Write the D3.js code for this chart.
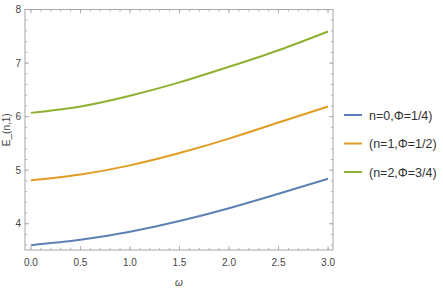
<!DOCTYPE html>
<html>
<head>
<meta charset="utf-8">
<script src="https://cdn.jsdelivr.net/npm/d3@7"></script>
<style>
  body { margin: 0; background: #fff; }
  text { font-family: "Liberation Sans", Arial, sans-serif; }
</style>
</head>
<body>
<div id="chart"></div>
<script>
// data
var omega = [0, 0.5, 1.0, 1.5, 2.0, 2.5, 3.0];
var seriesN0 = [3.60, 3.70, 3.85, 4.05, 4.29, 4.56, 4.84];
var seriesN1 = [4.81, 4.92, 5.09, 5.32, 5.59, 5.89, 6.19];
var seriesN2 = [6.07, 6.19, 6.39, 6.64, 6.93, 7.24, 7.59];
var seriesNames = ["n=0,\u03A6=1/4)", "(n=1,\u03A6=1/2)", "(n=2,\u03A6=3/4)"];
var seriesColors = ["#5E81B5", "#E19C24", "#8FB032"];
var xTicks = [0, 0.5, 1.0, 1.5, 2.0, 2.5, 3.0];
var yTicks = [4, 5, 6, 7, 8];

var svgWidth = 443;
var svgHeight = 291;

// plot frame
var margin = { top: 9.5, right: 110, bottom: 41, left: 25 };
var width = svgWidth - margin.left - margin.right;
var height = svgHeight - margin.top - margin.bottom;

var svg = d3.select("#chart")
  .append("svg")
  .attr("width", svgWidth)
  .attr("height", svgHeight);

var chartGroup = svg.append("g")
  .attr("transform", `translate(${margin.left}, ${margin.top})`);

var xScale = d3.scaleLinear().domain([-0.06, 3.05]).range([0, width]);
var yScale = d3.scaleLinear().domain([3.51, 8.0]).range([height, 0]);

var frameColor = "#a6a6a6";
var labelColor = "#444";

// minor ticks
var xMinor = d3.range(0, 3.0001, 0.1).filter(v => xScale(v) <= width);
var yMinor = d3.range(3.6, 8.0001, 0.2);

function tickLines(vals, big, horizontal) {
  vals.forEach(function(v) {
    var len = big ? 4 : 2.3;
    if (horizontal) {
      var x = xScale(v);
      chartGroup.append("line").attr("x1", x).attr("x2", x)
        .attr("y1", height).attr("y2", height - len)
        .attr("stroke", frameColor).attr("stroke-width", 0.8);
      chartGroup.append("line").attr("x1", x).attr("x2", x)
        .attr("y1", 0).attr("y2", len)
        .attr("stroke", frameColor).attr("stroke-width", 0.8);
    } else {
      var y = yScale(v);
      chartGroup.append("line").attr("x1", 0).attr("x2", len)
        .attr("y1", y).attr("y2", y)
        .attr("stroke", frameColor).attr("stroke-width", 0.8);
      chartGroup.append("line").attr("x1", width).attr("x2", width - len)
        .attr("y1", y).attr("y2", y)
        .attr("stroke", frameColor).attr("stroke-width", 0.8);
    }
  });
}
tickLines(xMinor, false, true);
tickLines(xTicks, true, true);
tickLines(yMinor, false, false);
tickLines(yTicks, true, false);

// frame
chartGroup.append("rect")
  .attr("x", 0).attr("y", 0)
  .attr("width", width).attr("height", height)
  .attr("fill", "none")
  .attr("stroke", frameColor)
  .attr("stroke-width", 1);

// tick labels
chartGroup.selectAll(".xlab")
  .data(xTicks)
  .enter()
  .append("text")
  .attr("x", d => xScale(d))
  .attr("y", height + 15.5)
  .attr("text-anchor", "middle")
  .attr("font-size", "10px")
  .attr("fill", labelColor)
  .text(d => d.toFixed(1));

chartGroup.selectAll(".ylab")
  .data(yTicks)
  .enter()
  .append("text")
  .attr("x", -4)
  .attr("y", d => yScale(d) + 3.5)
  .attr("text-anchor", "end")
  .attr("font-size", "10px")
  .attr("fill", labelColor)
  .text(d => d);

// lines
var allSeries = [seriesN0, seriesN1, seriesN2];
var line = d3.line()
  .x((d, i) => xScale(omega[i]))
  .y(d => yScale(d))
  .curve(d3.curveNatural);

allSeries.forEach(function(s, i) {
  chartGroup.append("path")
    .datum(s)
    .attr("d", line)
    .attr("fill", "none")
    .attr("stroke", seriesColors[i])
    .attr("stroke-width", 2);
});

// axis labels
svg.append("text")
  .attr("transform", `translate(9.5, ${margin.top + height / 2}) rotate(-90)`)
  .attr("text-anchor", "middle")
  .attr("font-size", "10px")
  .attr("fill", labelColor)
  .text("E_(n,1)");

svg.append("text")
  .attr("x", margin.left + width / 2)
  .attr("y", 286)
  .attr("text-anchor", "middle")
  .attr("font-size", "10px")
  .attr("font-style", "italic")
  .attr("fill", labelColor)
  .text("\u03C9");

// legend
var legend = svg.append("g");
seriesNames.forEach(function(name, i) {
  var y = 115 + i * 28.5;
  legend.append("line")
    .attr("x1", 344).attr("x2", 362)
    .attr("y1", y).attr("y2", y)
    .attr("stroke", seriesColors[i])
    .attr("stroke-width", 2);
  legend.append("text")
    .attr("x", 369)
    .attr("y", y + 4.5)
    .attr("font-size", "12.5px")
    .attr("fill", "#333")
    .text(name);
});
</script>
</body>
</html>
